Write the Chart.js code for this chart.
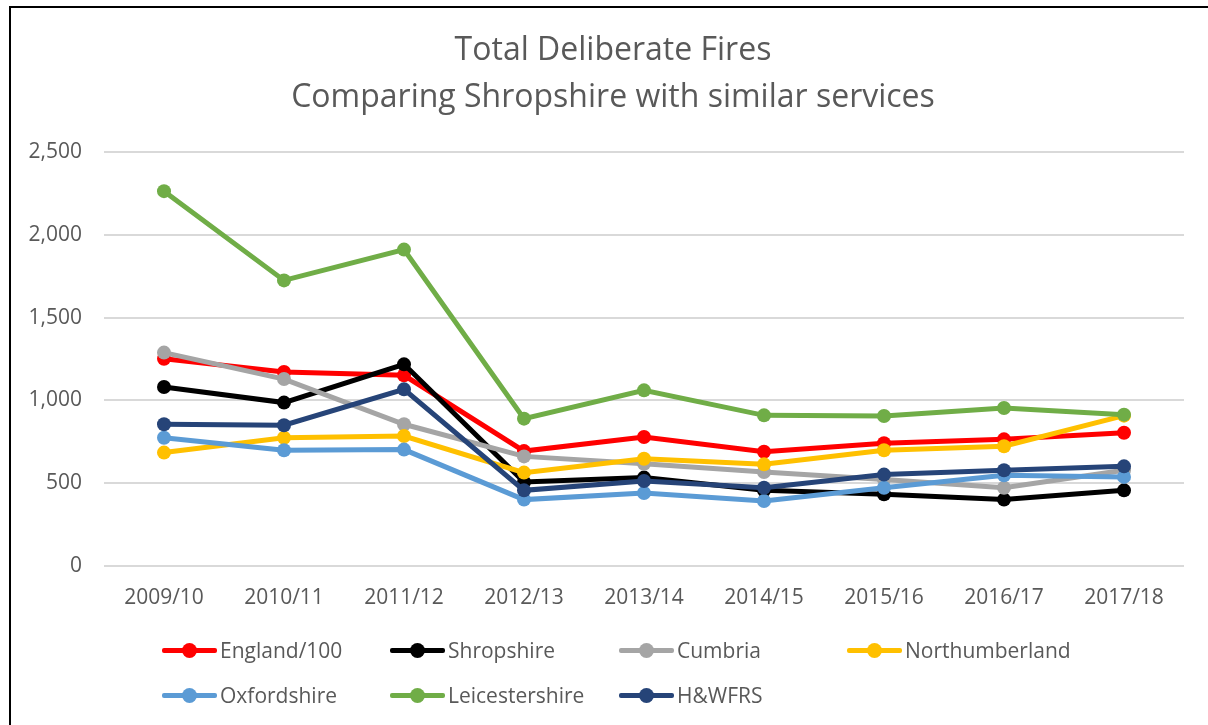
<!DOCTYPE html>
<html>
<head>
<meta charset="utf-8">
<script src="https://cdn.jsdelivr.net/npm/chart.js@4"></script>
<style>
    html, body { margin: 0; padding: 0; background: #fff; overflow: hidden; }
    #wrap { position: relative; width: 1208px; height: 725px; }
    #frame { position: absolute; left: 9px; top: 6px; width: 1240px; height: 760px; border: 2px solid #000; }
    #chart { position: absolute; left: 0; top: 0; }
    .leg { position: absolute; height: 24px; display: flex; align-items: center;
           font-family: "Open Sans", sans-serif; font-size: 21px; color: #595959; white-space: nowrap; }
    .leg .mk { position: relative; width: 55px; height: 5px; border-radius: 2px; margin-right: 3px; }
    .leg .mk::after { content: ""; position: absolute; left: 20px; top: -5px; width: 15px; height: 15px;
                      border-radius: 50%; background: inherit; }
</style>
</head>
<body>
<div id="wrap">
    <div id="frame"></div>
    <canvas id="chart" width="1208" height="725"></canvas>
</div>
<script>
    // Data
    const years = ['2009/10', '2010/11', '2011/12', '2012/13', '2013/14', '2014/15', '2015/16', '2016/17', '2017/18'];
    const england = [1252, 1172, 1152, 694, 779, 690, 741, 765, 805];
    const shropshire = [1081, 987, 1218, 507, 534, 457, 433, 401, 457];
    const cumbria = [1289, 1129, 856, 662, 618, 568, 522, 473, 578];
    const northumberland = [685, 775, 785, 564, 648, 614, 699, 723, 908];
    const oxfordshire = [775, 699, 703, 401, 441, 393, 473, 548, 538];
    const leicestershire = [2264, 1725, 1911, 890, 1061, 910, 906, 954, 914];
    const hwfrs = [856, 850, 1067, 457, 513, 473, 552, 578, 602];

    const seriesNames = ['England/100', 'Shropshire', 'Cumbria', 'Northumberland', 'Oxfordshire', 'Leicestershire', 'H&WFRS'];
    const seriesData = [england, shropshire, cumbria, northumberland, oxfordshire, leicestershire, hwfrs];
    const seriesColors = ['#FF0000', '#000000', '#A5A5A5', '#FFC000', '#5B9BD5', '#70AD47', '#264478'];

    const textColor = '#595959';

    // later series sit on top, like the original
    const datasets = seriesNames.map((name, i) => ({
        label: name,
        data: seriesData[i],
        borderColor: seriesColors[i],
        backgroundColor: seriesColors[i],
        pointBackgroundColor: seriesColors[i],
        pointBorderColor: seriesColors[i],
        borderWidth: 5,
        pointRadius: 7,
        pointBorderWidth: 0,
        tension: 0,
        order: seriesNames.length - i
    }));

    // the original title is centred a bit right of the canvas middle
    const shiftTitle = {
        id: 'shiftTitle',
        afterLayout(chart) {
            if (chart.titleBlock) chart.titleBlock.left += 42;
        }
    };

    const ctx = document.getElementById('chart').getContext('2d');
    const chart = new Chart(ctx, {
        type: 'line',
        data: { labels: years, datasets: datasets },
        plugins: [shiftTitle],
        options: {
            responsive: false,
            animation: false,
            layout: { padding: { left: 0, right: 24, top: 0, bottom: 100 } },
            plugins: {
                legend: { display: false },
                tooltip: { enabled: false },
                title: {
                    display: true,
                    text: ['Total Deliberate Fires', 'Comparing Shropshire with similar services'],
                    color: textColor,
                    font: { family: 'Open Sans', size: 32, weight: 'normal', lineHeight: 1.47 },
                    padding: { top: 27, bottom: 31 }
                }
            },
            scales: {
                x: {
                    offset: true,
                    grid: { display: false, drawTicks: false },
                    border: { display: false },
                    ticks: { color: textColor, font: { family: 'Open Sans', size: 21 }, padding: 19 },
                    afterFit: (scale) => { scale.height = 59; }
                },
                y: {
                    min: 0,
                    max: 2500,
                    ticks: {
                        stepSize: 500,
                        color: textColor,
                        font: { family: 'Open Sans', size: 21 },
                        padding: 22,
                        callback: (v) => v.toLocaleString('en-GB')
                    },
                    grid: { color: '#D9D9D9', lineWidth: 2, drawTicks: false },
                    border: { display: false },
                    afterFit: (scale) => { scale.width = 104; }
                }
            }
        }
    });

    // Legend laid out as a grid, like the original
    const legCols = [162, 390, 619, 847];
    const legRows = [638, 683];
    const wrap = document.getElementById('wrap');
    chart.data.datasets.forEach((ds, i) => {
        const item = document.createElement('div');
        item.className = 'leg';
        item.style.left = legCols[i % 4] + 'px';
        item.style.top = legRows[Math.floor(i / 4)] + 'px';
        const mk = document.createElement('span');
        mk.className = 'mk';
        mk.style.background = ds.borderColor;
        const txt = document.createElement('span');
        txt.textContent = ds.label;
        item.appendChild(mk);
        item.appendChild(txt);
        wrap.appendChild(item);
    });
</script>
</body>
</html>
